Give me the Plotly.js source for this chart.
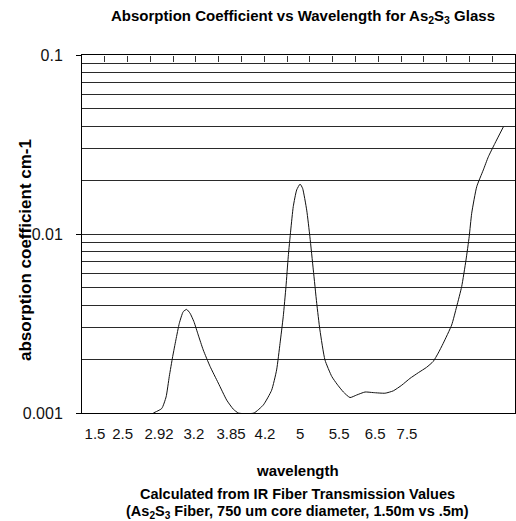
<!DOCTYPE html>
<html>
<head>
<meta charset="utf-8">
<script src="https://cdn.plot.ly/plotly-3.0.1.min.js"></script>
<style>html,body{margin:0;padding:0;background:#fff;}#chart{width:516px;height:521px;}</style>
</head>
<body>
<div id="chart"></div>
<script>
// Category position along the wavelength axis (Excel category units, 19 categories)
const xPos = [3.13, 3.50, 3.69, 3.83, 3.98, 4.12, 4.27, 4.44, 4.59, 4.74, 4.91, 5.10, 5.32, 5.62, 5.98, 6.35, 6.64, 6.86,
  7.20, 7.55, 7.96, 8.32, 8.54, 8.69, 8.83, 8.95, 9.05, 9.16, 9.27, 9.42, 9.57, 9.68, 9.86, 10.00, 10.15, 10.30, 10.44,
  10.66, 10.96, 11.19, 11.47, 11.76, 12.05, 12.42, 12.78, 13.30, 13.66, 14.03, 14.39, 14.76, 15.12, 15.41, 15.63, 15.85,
  16.22, 16.44, 16.66, 16.85, 16.99, 17.10, 17.32, 17.61, 17.83, 18.12, 18.49];
// Absorption coefficient (cm-1)
const absorption = [0.00100, 0.00106, 0.00123, 0.00160, 0.00207, 0.00256, 0.00317, 0.00368, 0.00379, 0.00361, 0.00324,
  0.00273, 0.00225, 0.00182, 0.00147, 0.00118, 0.00105, 0.00100,
  0.00099, 0.00100, 0.00111, 0.00134, 0.00174, 0.00245, 0.00345, 0.00508, 0.00746, 0.01052, 0.01422, 0.01763, 0.0190,
  0.0180, 0.0136, 0.00966, 0.00630, 0.00410, 0.00291,
  0.00198, 0.00160, 0.00145, 0.00131, 0.00122, 0.00126, 0.00131, 0.00130, 0.00129, 0.00133, 0.00143, 0.00156, 0.00168,
  0.00180, 0.00194, 0.00216, 0.00245,
  0.00310, 0.00393, 0.00508, 0.00716, 0.00966, 0.01306, 0.01837, 0.0228, 0.0270, 0.0321, 0.0397];
// Wavelength tick labels and their positions on the category axis
const tickLabels = ["1.5", "2.5", "2.92", "3.2", "3.85", "4.2", "5", "5.5", "6.5", "7.5"];
const tickPos = [0.57, 1.78, 3.38, 4.91, 6.54, 8.03, 9.57, 11.28, 12.86, 14.26];
const yTickVals = [0.001, 0.01, 0.1];
const yTickText = ["0.001", "0.01", "0.1"];

const nCat = 19;
const catTicks = [];
for (let i = 1; i < nCat; i++) catTicks.push(i);
const minorVals = [];
[0.001, 0.01].forEach(d => { for (let k = 2; k <= 9; k++) minorVals.push(+(d * k).toPrecision(3)); });

const FONT = "Liberation Sans, Arial, sans-serif";
const GRID = "#2a2a2a";

const traces = [
  {
    x: xPos, y: absorption, type: "scatter", mode: "lines",
    line: {color: "#111", width: 1, shape: "spline", smoothing: 0.5},
    hoverinfo: "skip", showlegend: false
  },
  {
    x: [0, nCat], y: [0.0001, 0.0001], xaxis: "x2", yaxis: "y", type: "scatter", mode: "lines",
    line: {color: "rgba(0,0,0,0)", width: 0}, hoverinfo: "skip", showlegend: false
  }
];

const layout = {
  width: 516, height: 521,
  margin: {l: 82, r: 1, t: 55, b: 108, pad: 0},
  paper_bgcolor: "#fff", plot_bgcolor: "#fff",
  showlegend: false,
  font: {family: FONT, color: "#000"},
  title: {
    text: "<b>Absorption Coefficient vs Wavelength for As<sub>2</sub>S<sub>3</sub> Glass</b>",
    font: {family: FONT, size: 15, color: "#000"},
    xref: "container", x: 303 / 516, xanchor: "center",
    yref: "container", y: 1 - 16 / 521, yanchor: "middle"
  },
  xaxis: {
    range: [0, nCat], tickmode: "array", tickvals: tickPos, ticktext: tickLabels,
    ticks: "outside", ticklen: 0, showgrid: false, zeroline: false,
    showline: true, linecolor: "#000", linewidth: 1, mirror: true,
    tickfont: {family: FONT, size: 15, color: "#111"}, ticklabelstandoff: 7
  },
  xaxis2: {
    overlaying: "x", anchor: "free", position: 1, side: "bottom", range: [0, nCat],
    tickmode: "array", tickvals: catTicks,
    ticks: "outside", ticklen: 6, tickcolor: "#333", tickwidth: 1,
    showticklabels: false, showgrid: false, zeroline: false, showline: false
  },
  yaxis: {
    type: "log", range: [-3, -1], tickmode: "array", tickvals: yTickVals, ticktext: yTickText,
    ticks: "outside", ticklen: 5, tickcolor: "#000", tickwidth: 1,
    showline: true, linecolor: "#000", linewidth: 1, mirror: true,
    showgrid: true, gridcolor: GRID, gridwidth: 1, zeroline: false,
    minor: {tickmode: "array", tickvals: minorVals, showgrid: true, gridcolor: GRID, gridwidth: 1, ticks: ""},
    tickfont: {family: FONT, size: 16, color: "#111"}, ticklabelstandoff: 10
  },
  annotations: [
    {text: "<b>absorption coefficient cm-1</b>", xref: "paper", yref: "paper",
     x: (26 - 82) / 433, y: (413 - 250) / 358, xanchor: "center", yanchor: "middle",
     textangle: -90, showarrow: false, font: {family: FONT, size: 17, color: "#000"}},
    {text: "<b>wavelength</b>", xref: "paper", yref: "paper",
     x: (297 - 82) / 433, y: (413 - 470) / 358, xanchor: "center", yanchor: "middle",
     showarrow: false, font: {family: FONT, size: 15, color: "#000"}},
    {text: "<b>Calculated from IR Fiber Transmission Values</b>", xref: "paper", yref: "paper",
     x: (297 - 82) / 433, y: (413 - 494) / 358, xanchor: "center", yanchor: "middle",
     showarrow: false, font: {family: FONT, size: 14.5, color: "#000"}},
    {text: "<b>(As<sub>2</sub>S<sub>3</sub> Fiber, 750 um core diameter, 1.50m vs .5m)</b>", xref: "paper", yref: "paper",
     x: (297 - 82) / 433, y: (413 - 512) / 358, xanchor: "center", yanchor: "middle",
     showarrow: false, font: {family: FONT, size: 14.5, color: "#000"}}
  ]
};

Plotly.newPlot("chart", traces, layout, {staticPlot: true, displayModeBar: false});
</script>
</body>
</html>
